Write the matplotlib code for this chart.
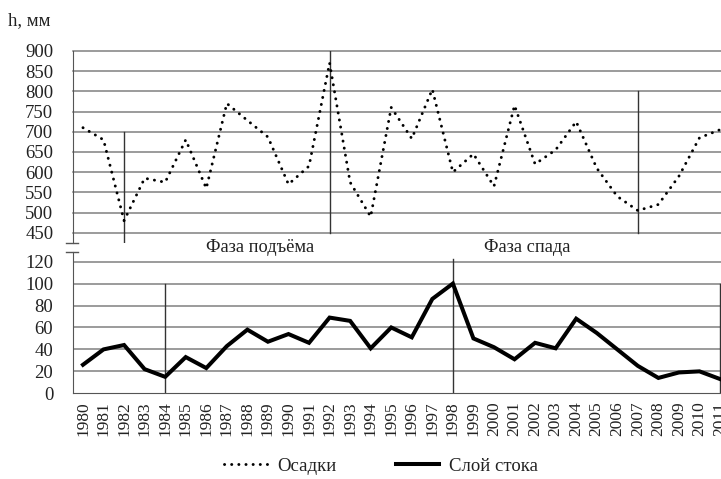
import matplotlib
matplotlib.use("Agg")
import matplotlib.pyplot as plt
from matplotlib.lines import Line2D

# ---- data ----
years = list(range(1980, 2012))
precip = [710, 680, 480, 585, 575, 680, 560, 770, 728, 687, 570, 615, 870, 575, 490, 760,
          683, 805, 600, 645, 565, 765, 620, 655, 725, 610, 540, 505, 520, 590, 685, 705]
runoff = [26, 40, 44, 22, 15, 33, 23, 43, 58, 47, 54, 46, 69, 66, 41, 60,
          51, 86, 100, 50, 42, 31, 46, 41, 68, 55, 40, 25, 14, 19, 20, 13]
top_ticks = [450, 500, 550, 600, 650, 700, 750, 800, 850, 900]
bot_ticks = [0, 20, 40, 60, 80, 100, 120]
top_marks_year = [1982, 1992, 2007]
top_marks_lo = [424, 450, 450]
top_marks_hi = [700, 900, 800]
bot_marks_year = [1984, 1998, 2011]
bot_marks_lo = [0, 0, 0]
bot_marks_hi = [100, 122, 100]
phase_labels = ["Фаза подъёма", "Фаза спада"]
legend_labels = ["Осадки", "Слой стока"]
ylabel = "h, мм"

SERIF = ["Liberation Serif", "DejaVu Serif"]
plt.rcParams['font.family'] = SERIF
TXT = "#222222"
GRID = "#808080"
DOTS = (0, (0.05, 2.4))

W, H = 721, 479
fig = plt.figure(figsize=(W / 100, H / 100), dpi=100)

left = 72.7 / W
spacing = 20.55
right_px = 72.7 + spacing * 32
width = (right_px - 72.7) / W

ax1 = fig.add_axes([left, 1 - 243.3 / H, width, (243.3 - 50.7) / H])
ax2 = fig.add_axes([left, 1 - 393.3 / H, width, (393.3 - 252.3) / H])

x = list(range(len(years)))

# top panel: precipitation
ax1.plot(x, precip, color="black", lw=2.1, linestyle=DOTS,
         dash_capstyle="round", solid_capstyle="round", zorder=3)
ax1.set_xlim(-0.5, len(years) - 0.5)
ax1.set_ylim(424, 900.5)
ax1.set_yticks(top_ticks)
ax1.set_yticklabels([str(v) for v in top_ticks], fontsize=13.5, color=TXT)
ax1.set_xticks([])
for v in top_ticks:
    ax1.axhline(v, color=GRID, lw=1.1, zorder=1, clip_on=False)
for s in ["top", "right", "bottom"]:
    ax1.spines[s].set_visible(False)
ax1.spines["left"].set_color("#555555")
ax1.tick_params(axis="y", length=0, pad=14)
for yr, lo, hi in zip(top_marks_year, top_marks_lo, top_marks_hi):
    i = years.index(yr)
    ax1.plot([i, i], [lo, hi], color="#333333", lw=1.0, zorder=2)

# bottom panel: runoff
ax2.plot(x, runoff, color="black", lw=2.9, solid_joinstyle="miter", zorder=3)
ax2.set_xlim(-0.5, len(years) - 0.5)
ax2.set_ylim(0, 128.5)
ax2.set_yticks(bot_ticks)
ax2.set_yticklabels([str(v) for v in bot_ticks], fontsize=13.5, color=TXT)
ax2.set_xticks(x)
ax2.set_xticklabels([str(y) for y in years], rotation=90, fontsize=12.5, color=TXT)
for v in bot_ticks[1:]:
    ax2.axhline(v, color=GRID, lw=1.1, zorder=1)
for s in ["top", "right"]:
    ax2.spines[s].set_visible(False)
ax2.spines["left"].set_color("#555555")
ax2.spines["bottom"].set_color("#555555")
ax2.tick_params(axis="y", length=0, pad=14)
ax2.tick_params(axis="x", length=0, pad=6)
for yr, lo, hi in zip(bot_marks_year, bot_marks_lo, bot_marks_hi):
    i = years.index(yr)
    ax2.plot([i, i], [lo, hi], color="#333333", lw=1.0, zorder=2)

# axis break marks
ax1.plot([-0.010, 0.008], [0, 0], transform=ax1.transAxes, color="#555555", lw=1.0, clip_on=False)
ax2.plot([-0.010, 0.008], [1, 1], transform=ax2.transAxes, color="#555555", lw=1.0, clip_on=False)

# phase labels
fig.text(260 / W, 1 - 247 / H, phase_labels[0], ha="center", va="center", fontsize=13.2, color=TXT)
fig.text(527 / W, 1 - 248 / H, phase_labels[1], ha="center", va="center", fontsize=13.2, color=TXT)

# axis title
fig.text(8 / W, 1 - 21 / H, ylabel, ha="left", va="center", fontsize=13.5, color=TXT)

# legend
handles = [Line2D([], [], color="black", lw=2.1, linestyle=DOTS, dash_capstyle="round"),
           Line2D([], [], color="black", lw=2.9)]
fig.legend(handles, legend_labels, loc="center", bbox_to_anchor=(381 / W, 1 - 466 / H),
           ncol=2, frameon=False, fontsize=13.5, handlelength=2.3, columnspacing=3.2,
           handletextpad=0.5, labelcolor=TXT)

fig.savefig("out.png", dpi=100, facecolor="white")
